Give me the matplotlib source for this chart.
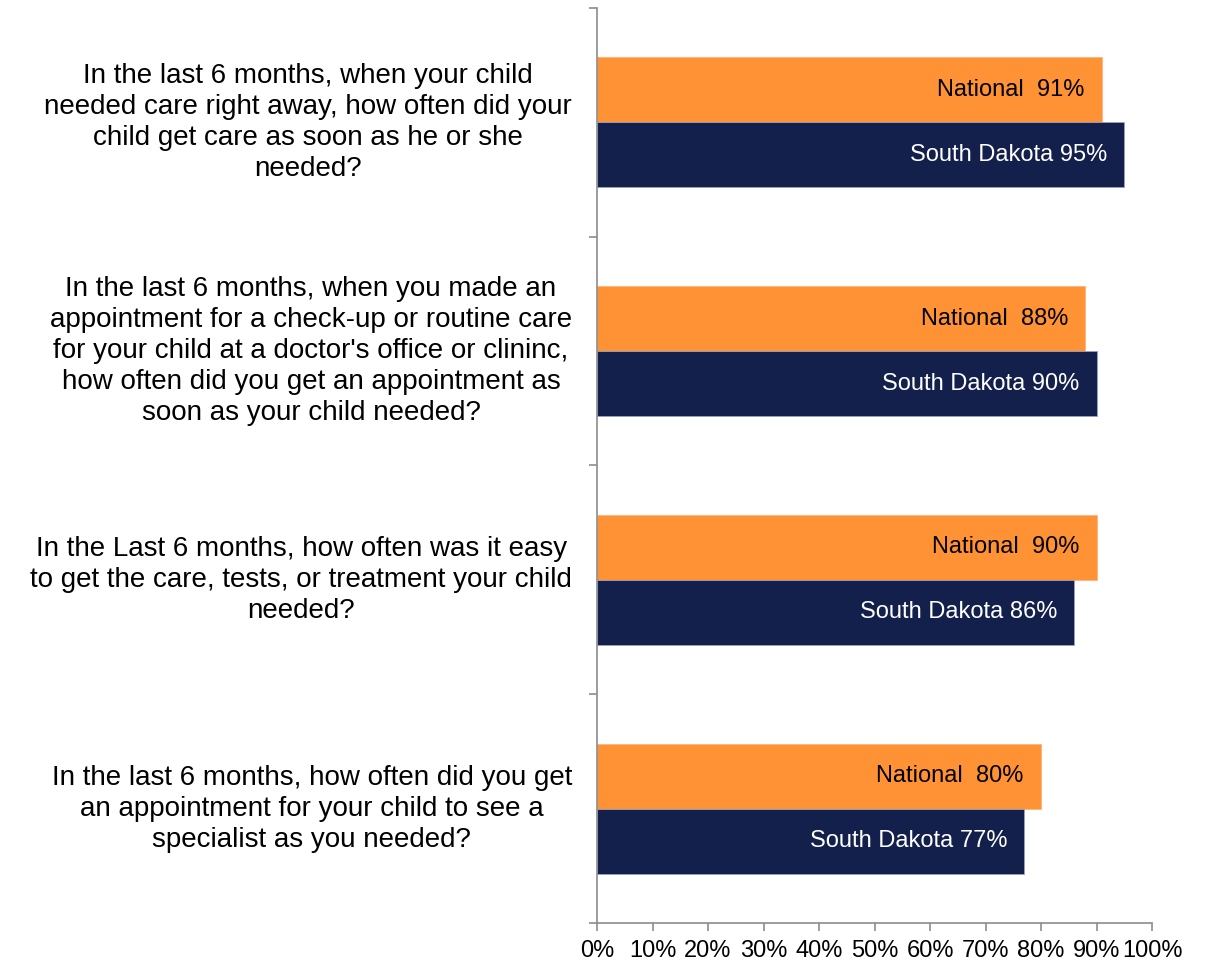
import matplotlib
matplotlib.use("Agg")
import matplotlib.pyplot as plt
import numpy as np

plt.rcParams['font.family'] = ['Liberation Sans', 'DejaVu Sans']

questions = [
    "In the last 6 months, when your child\nneeded care right away, how often did your\nchild get care as soon as he or she\nneeded?",
    "In the last 6 months, when you made an\nappointment for a check-up or routine care\nfor your child at a doctor's office or clininc,\nhow often did you get an appointment as\nsoon as your child needed?",
    "In the Last 6 months, how often was it easy\nto get the care, tests, or treatment your child\nneeded?",
    "In the last 6 months, how often did you get\nan appointment for your child to see a\nspecialist as you needed?",
]
national = [91, 88, 90, 80]
south_dakota = [95, 90, 86, 77]

orange = '#FF9234'
navy = '#12204B'
gray = '#8C8C8C'

fig = plt.figure(figsize=(12.06, 9.63), dpi=100)
ax = fig.add_axes([597 / 1206, 40 / 963, 555 / 1206, 915 / 963])

y = np.arange(len(questions))
h = 0.284
ax.barh(y - h / 2, [v / 100 for v in national], height=h, color=orange,
        edgecolor='#FFB27A', linewidth=0.6)
ax.barh(y + h / 2, [v / 100 for v in south_dakota], height=h, color=navy,
        edgecolor='#9AA3BD', linewidth=0.6)

for i, (n, s) in enumerate(zip(national, south_dakota)):
    ax.text(n / 100 - 0.031, i - h / 2, f"National  {n}%", ha='right', va='center',
            fontsize=17, color='black')
    ax.text(s / 100 - 0.031, i + h / 2, f"South Dakota {s}%", ha='right', va='center',
            fontsize=17, color='white')

ax.set_xlim(0, 1)
ax.set_ylim(len(questions) - 0.5, -0.5)

ax.set_xticks(np.linspace(0, 1, 11))
ax.set_xticklabels([f"{int(round(t * 100))}%" for t in np.linspace(0, 1, 11)], fontsize=17)
ax.set_yticks(np.arange(-0.5, len(questions), 1.0))
ax.set_yticklabels([])
ax.tick_params(axis='both', direction='out', length=6, width=1.2, color=gray)
ax.tick_params(axis='x', pad=6)

for i, q in enumerate(questions):
    ax.text(-0.045, i, q, transform=ax.get_yaxis_transform(), ha='right', va='center',
            multialignment='center', fontsize=20, linespacing=1.25)

for side in ['top', 'right']:
    ax.spines[side].set_visible(False)
for side in ['left', 'bottom']:
    ax.spines[side].set_color(gray)
    ax.spines[side].set_linewidth(1.2)

fig.savefig('out.png', dpi=100)
